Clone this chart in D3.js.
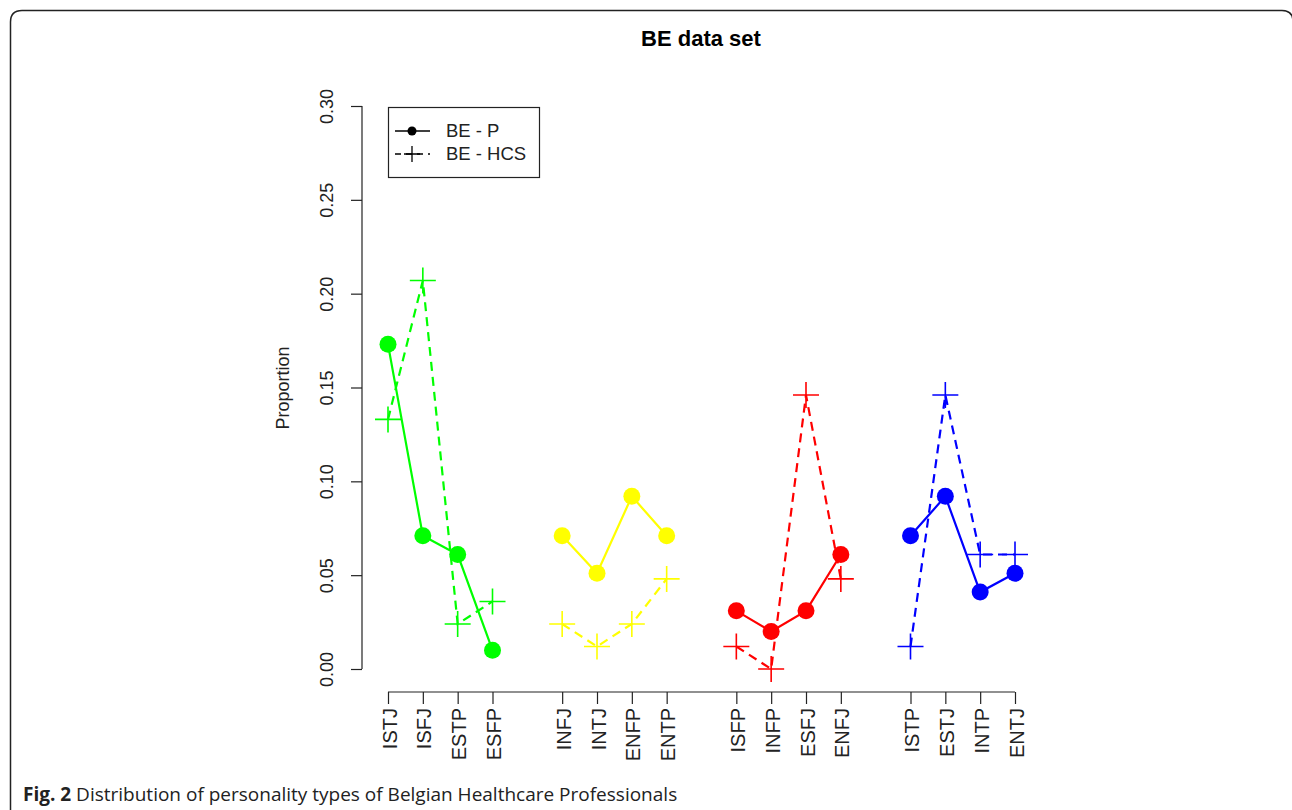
<!DOCTYPE html>
<html><head><meta charset="utf-8">
<script src="https://cdn.jsdelivr.net/npm/d3@7"></script>
<style>body{margin:0;background:#fff}svg{display:block}</style>
</head><body>
<svg id="c" width="1292" height="810"></svg>
<script>
const types = ["ISTJ","ISFJ","ESTP","ESFP","INFJ","INTJ","ENFP","ENTP","ISFP","INFP","ESFJ","ENFJ","ISTP","ESTJ","INTP","ENTJ"];
const positions = [1,2,3,4,6,7,8,9,11,12,13,14,16,17,18,19];
const groupColors = ["#00ff00","#ffff00","#ff0000","#0000ff"];
const valuesP   = [0.173,0.071,0.061,0.010, 0.071,0.051,0.092,0.071, 0.031,0.020,0.031,0.061, 0.071,0.092,0.041,0.051];
const valuesHCS = [0.133,0.207,0.024,0.036, 0.024,0.012,0.024,0.048, 0.012,0.000,0.146,0.048, 0.012,0.146,0.061,0.061];
const yTicks = [0,0.05,0.10,0.15,0.20,0.25,0.30];
const seriesNames = ["BE - P","BE - HCS"];

const svg = d3.select("#c");
const font = "'Liberation Sans', Arial, sans-serif";

// outer frame
svg.append("path")
  .attr("d","M10.5,815 L10.5,22 Q10.5,10.5 22,10.5 L1282,10.5 Q1293,10.5 1293,22 L1293,815")
  .attr("fill","none").attr("stroke","#222").attr("stroke-width",1.5);

const x = d3.scaleLinear().domain([1,19]).range([388,1015]);
const y = d3.scaleLinear().domain([0,0.30]).range([669,106]);

// title
svg.append("text").attr("x",701).attr("y",46).attr("text-anchor","middle")
  .attr("font-family",font).attr("font-weight","bold").attr("font-size",22).text("BE data set");

// y axis
const yAxis = svg.append("g").attr("transform","translate(362,0)")
  .call(d3.axisLeft(y).tickValues(yTicks).tickFormat(d3.format(".2f")).tickSize(11).tickPadding(5));
yAxis.select(".domain").attr("stroke","#222").attr("stroke-width",1.2).attr("d","M0,106V669");
yAxis.selectAll(".tick line").attr("stroke","#222").attr("stroke-width",1.2);
yAxis.selectAll(".tick text").attr("font-family",font).attr("font-size",18).attr("fill","#222")
  .attr("text-anchor","middle").attr("x",0).attr("y",0).attr("dy","0.35em")
  .attr("transform","translate(-35,0) rotate(-90)");

svg.append("text").attr("transform","translate(289,388) rotate(-90)").attr("text-anchor","middle")
  .attr("font-family",font).attr("font-size",18).attr("fill","#222").text("Proportion");

// x axis
const xAxis = svg.append("g").attr("transform","translate(0,692)")
  .call(d3.axisBottom(x).tickValues(positions).tickFormat((d,i)=>types[i]).tickSize(12).tickPadding(4));
xAxis.select(".domain").attr("stroke","#222").attr("stroke-width",1.2).attr("d","M388,0H1015");
xAxis.selectAll(".tick line").attr("stroke","#222").attr("stroke-width",1.2);
xAxis.selectAll(".tick text").attr("font-family",font).attr("font-size",20).attr("fill","#222")
  .attr("text-anchor","end").attr("y",0).attr("dy",0)
  .attr("transform","translate(8,16) rotate(-90)");

// data
const groups = d3.range(4).map(g => d3.range(g*4, g*4+4));
const line = d3.line().x(d=>x(d[0])).y(d=>y(d[1]));

groups.forEach((idx,g) => {
  const col = groupColors[g];
  const pts = idx.map(i=>[positions[i], valuesHCS[i]]);
  const ptsP = idx.map(i=>[positions[i], valuesP[i]]);
  svg.append("path").attr("d",line(pts)).attr("fill","none").attr("stroke",col)
    .attr("stroke-width",2.2).attr("stroke-dasharray","9,6");
  svg.append("path").attr("d",line(ptsP)).attr("fill","none").attr("stroke",col).attr("stroke-width",2.2);
  svg.selectAll(null).data(ptsP).enter().append("circle")
    .attr("cx",d=>x(d[0])).attr("cy",d=>y(d[1])).attr("r",8.5).attr("fill",col);
  svg.selectAll(null).data(pts).enter().append("path")
    .attr("d",d=>{const cx=x(d[0]), cy=y(d[1]), s=13; return `M${cx-s},${cy}H${cx+s}M${cx},${cy-s}V${cy+s}`;})
    .attr("stroke",col).attr("stroke-width",1.6).attr("fill","none");
});

// legend
const lg = svg.append("g");
lg.append("rect").attr("x",388.5).attr("y",107.5).attr("width",151).attr("height",70)
  .attr("fill","#fff").attr("stroke","#222").attr("stroke-width",1.2);
lg.append("line").attr("x1",395).attr("x2",430).attr("y1",131).attr("y2",131).attr("stroke","#000").attr("stroke-width",1.6);
lg.append("circle").attr("cx",412).attr("cy",131).attr("r",4.5).attr("fill","#000");
lg.append("line").attr("x1",395).attr("x2",430).attr("y1",154).attr("y2",154).attr("stroke","#000").attr("stroke-width",1.3).attr("stroke-dasharray","6,5");
lg.append("path").attr("d","M404,154H420M412,146V162").attr("stroke","#000").attr("stroke-width",1.3);
lg.selectAll(null).data(seriesNames).enter().append("text")
  .attr("x",446).attr("y",(d,i)=>131+i*23).attr("dy","0.35em")
  .attr("font-family",font).attr("font-size",18.5).attr("fill","#222").text(d=>d);

// caption
const cap = svg.append("text").attr("x",23).attr("y",801).attr("font-family","'Open Sans', 'Noto Sans', sans-serif").attr("font-size",19).attr("fill","#222");
cap.append("tspan").attr("font-weight","bold").text("Fig. 2");
cap.append("tspan").text(" Distribution of personality types of Belgian Healthcare Professionals");
</script>
</body></html>
